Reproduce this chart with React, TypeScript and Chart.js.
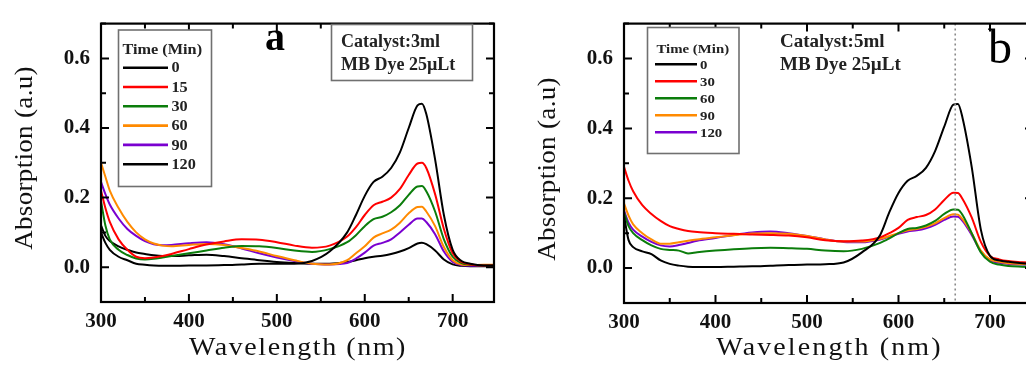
import React, { useEffect, useRef } from 'react';
import { Chart, registerables } from 'chart.js';

Chart.register(...registerables);

// ---------------- data ----------------
const WAVELENGTHS = [300, 305, 310, 320, 330, 340, 350, 360, 370, 380, 400, 420, 440, 460, 480, 500, 520, 540, 560, 580, 590, 600, 610, 620, 630, 640, 650, 660, 665, 670, 680, 690, 700, 710, 720, 735, 747];

const X_TICK_LABELS = ['300', '400', '500', '600', '700'];
const Y_TICK_LABELS = ['0.0', '0.2', '0.4', '0.6'];

// Panel a (Catalyst 3 ml)
const A_TIMES = ['0', '15', '30', '60', '90', '120'];
const A_COLORS = ['#000000', '#ff0000', '#0b7d0b', '#ff8a00', '#7a00d0', '#000000'];
const A_0 = [0.10, 0.07, 0.05, 0.03, 0.02, 0.01, 0.007, 0.005, 0.004, 0.004, 0.005, 0.005, 0.006, 0.008, 0.01, 0.01, 0.01, 0.018, 0.045, 0.10, 0.15, 0.205, 0.245, 0.26, 0.285, 0.33, 0.40, 0.465, 0.47, 0.44, 0.31, 0.15, 0.05, 0.018, 0.01, 0.005, 0.005];
const A_15 = [0.22, 0.17, 0.13, 0.08, 0.05, 0.03, 0.026, 0.028, 0.032, 0.038, 0.052, 0.065, 0.074, 0.08, 0.079, 0.072, 0.062, 0.056, 0.062, 0.088, 0.115, 0.15, 0.178, 0.188, 0.2, 0.225, 0.265, 0.298, 0.30, 0.285, 0.21, 0.11, 0.04, 0.015, 0.008, 0.005, 0.005];
const A_30 = [0.19, 0.12, 0.08, 0.05, 0.035, 0.025, 0.022, 0.024, 0.028, 0.032, 0.04, 0.048, 0.056, 0.061, 0.06, 0.055, 0.048, 0.044, 0.052, 0.072, 0.092, 0.118, 0.138, 0.145, 0.158, 0.178, 0.208, 0.232, 0.233, 0.218, 0.16, 0.08, 0.03, 0.012, 0.007, 0.005, 0.005];
const A_60 = [0.30, 0.26, 0.22, 0.17, 0.13, 0.10, 0.08, 0.068, 0.062, 0.06, 0.064, 0.067, 0.064, 0.055, 0.045, 0.032, 0.02, 0.01, 0.008, 0.02, 0.04, 0.06, 0.085, 0.097, 0.108, 0.128, 0.155, 0.173, 0.174, 0.16, 0.118, 0.058, 0.02, 0.008, 0.006, 0.007, 0.007];
const A_90 = [0.245, 0.21, 0.18, 0.14, 0.11, 0.09, 0.075, 0.066, 0.063, 0.064, 0.069, 0.072, 0.066, 0.054, 0.04, 0.028, 0.018, 0.01, 0.008, 0.012, 0.025, 0.042, 0.062, 0.07, 0.08, 0.10, 0.122, 0.14, 0.14, 0.13, 0.095, 0.045, 0.015, 0.006, 0.004, 0.004, 0.004];
const A_120 = [0.12, 0.09, 0.075, 0.06, 0.05, 0.042, 0.038, 0.034, 0.032, 0.032, 0.034, 0.036, 0.032, 0.026, 0.02, 0.015, 0.012, 0.01, 0.01, 0.015, 0.02, 0.026, 0.03, 0.033, 0.038, 0.045, 0.055, 0.068, 0.07, 0.066, 0.048, 0.022, 0.008, 0.004, 0.003, 0.003, 0.003];

// Panel b (Catalyst 5 ml)
const B_TIMES = ['0', '30', '60', '90', '120'];
const B_COLORS = ['#000000', '#ff0000', '#0b7d0b', '#ff8a00', '#7a00d0'];
const B_0 = [0.15, 0.08, 0.06, 0.048, 0.04, 0.022, 0.012, 0.007, 0.004, 0.003, 0.003, 0.004, 0.005, 0.007, 0.009, 0.01, 0.011, 0.016, 0.045, 0.095, 0.16, 0.215, 0.25, 0.264, 0.287, 0.335, 0.405, 0.468, 0.47, 0.43, 0.29, 0.11, 0.035, 0.022, 0.018, 0.014, 0.012];
const B_30 = [0.29, 0.25, 0.22, 0.18, 0.155, 0.135, 0.12, 0.112, 0.106, 0.103, 0.10, 0.098, 0.096, 0.095, 0.093, 0.088, 0.08, 0.077, 0.079, 0.088, 0.10, 0.115, 0.138, 0.146, 0.152, 0.168, 0.195, 0.216, 0.215, 0.198, 0.145, 0.075, 0.035, 0.025, 0.02, 0.017, 0.015];
const B_60 = [0.16, 0.12, 0.10, 0.08, 0.065, 0.055, 0.052, 0.05, 0.042, 0.045, 0.05, 0.054, 0.057, 0.058, 0.057, 0.055, 0.05, 0.048, 0.055, 0.072, 0.085, 0.10, 0.112, 0.115, 0.122, 0.135, 0.155, 0.168, 0.167, 0.152, 0.10, 0.045, 0.018, 0.01, 0.006, 0.004, 0.003];
const B_90 = [0.185, 0.15, 0.125, 0.10, 0.082, 0.07, 0.07, 0.074, 0.078, 0.082, 0.088, 0.094, 0.099, 0.10, 0.098, 0.092, 0.082, 0.076, 0.076, 0.084, 0.092, 0.10, 0.108, 0.112, 0.118, 0.128, 0.143, 0.154, 0.153, 0.14, 0.10, 0.05, 0.025, 0.018, 0.014, 0.012, 0.01];
const B_120 = [0.165, 0.13, 0.11, 0.09, 0.075, 0.065, 0.062, 0.066, 0.072, 0.078, 0.086, 0.095, 0.102, 0.105, 0.10, 0.092, 0.082, 0.075, 0.074, 0.082, 0.09, 0.098, 0.105, 0.108, 0.114, 0.124, 0.138, 0.148, 0.147, 0.135, 0.095, 0.048, 0.022, 0.015, 0.012, 0.01, 0.009];

const A_SERIES = [A_0, A_15, A_30, A_60, A_90, A_120];
const B_SERIES = [B_0, B_30, B_60, B_90, B_120];
const PEAK_LINE_NM = 662;

const SERIF = '"Liberation Serif", "Times New Roman", serif';

type TextOpts = { align?: CanvasTextAlign; baseline?: CanvasTextBaseline; sx?: number; spacing?: number; rotate?: number; color?: string };

function drawText(ctx: CanvasRenderingContext2D, text: string, x: number, y: number, font: string, o: TextOpts = {}) {
  ctx.save();
  ctx.translate(x, y);
  if (o.rotate) ctx.rotate(o.rotate);
  ctx.scale(o.sx ?? 1, 1);
  ctx.font = font;
  (ctx as any).letterSpacing = `${o.spacing ?? 0}px`;
  ctx.fillStyle = o.color ?? '#000';
  ctx.textBaseline = o.baseline ?? 'alphabetic';
  const w = ctx.measureText(text).width;
  let dx = 0;
  const align = o.align ?? 'left';
  if (align === 'center') dx = -w / 2;
  else if (align === 'right') dx = -w;
  ctx.textAlign = 'left';
  ctx.fillText(text, dx, 0);
  ctx.restore();
}

type PanelCfg = {
  width: number;
  height: number;
  areaLeft: number;
  areaRight: number;
  areaTop: number;
  areaBottom: number;
  times: string[];
  colors: string[];
  series: number[][];
  legend: { x: number; y: number; w: number; h: number; titleX: number; titleY: number; titleSize: number; lineX0: number; lineX1: number; textX: number; row0: number; rowGap: number; labelSize: number; sx: number };
  letter: { text: string; x: number; y: number; font: string };
  note: { lines: string[]; x: number; y0: number; gap: number; font: string; box?: { x: number; y: number; w: number; h: number } };
  yTitle: { x: number; y: number };
  xTitle: { x: number; y: number; spacing: number };
  peakLine?: number;
};

function makeChart(canvas: HTMLCanvasElement, cfg: PanelCfg) {
  const deco = {
    id: 'deco',
    afterDatasetsDraw(chart: any) {
      const ctx: CanvasRenderingContext2D = chart.ctx;
      const area = chart.chartArea;
      const xs = chart.scales.x;
      const ys = chart.scales.y;
      ctx.save();
      if (cfg.peakLine !== undefined) {
        const px = xs.getPixelForValue(cfg.peakLine);
        ctx.strokeStyle = '#8a8a8a';
        ctx.lineWidth = 1.6;
        ctx.setLineDash([2, 3]);
        ctx.beginPath();
        ctx.moveTo(px, area.top);
        ctx.lineTo(px, area.bottom);
        ctx.stroke();
        ctx.setLineDash([]);
      }
      // frame
      ctx.strokeStyle = '#000';
      ctx.lineWidth = 2.2;
      ctx.strokeRect(area.left, area.top, area.right - area.left, area.bottom - area.top);
      // ticks (inward on all sides)
      ctx.lineWidth = 2;
      ctx.beginPath();
      xs.ticks.forEach((t: any) => {
        const v = t.value;
        if (Math.abs(v % 50) > 1e-6) return;
        const len = v % 100 === 0 ? 8 : 5;
        const px = xs.getPixelForValue(v);
        ctx.moveTo(px, area.bottom);
        ctx.lineTo(px, area.bottom - len);
        ctx.moveTo(px, area.top);
        ctx.lineTo(px, area.top + len);
      });
      ys.ticks.forEach((t: any) => {
        const r = Math.round(t.value * 10);
        const len = r % 2 === 0 ? 8 : 5;
        const py = ys.getPixelForValue(t.value);
        ctx.moveTo(area.left, py);
        ctx.lineTo(area.left + len, py);
        ctx.moveTo(area.right, py);
        ctx.lineTo(area.right - len, py);
      });
      ctx.stroke();
      ctx.restore();

      // legend
      const lg = cfg.legend;
      ctx.save();
      ctx.fillStyle = '#fff';
      ctx.fillRect(lg.x, lg.y, lg.w, lg.h);
      ctx.strokeStyle = '#707070';
      ctx.lineWidth = 1.6;
      ctx.strokeRect(lg.x, lg.y, lg.w, lg.h);
      ctx.restore();
      drawText(ctx, 'Time (Min)', lg.titleX, lg.titleY, `bold ${lg.titleSize}px ${SERIF}`, { baseline: 'middle', sx: lg.sx, color: '#222' });
      chart.data.datasets.forEach((ds: any, i: number) => {
        const y = lg.row0 + i * lg.rowGap;
        ctx.save();
        ctx.strokeStyle = ds.borderColor;
        ctx.lineWidth = 2.6;
        ctx.beginPath();
        ctx.moveTo(lg.lineX0, y);
        ctx.lineTo(lg.lineX1, y);
        ctx.stroke();
        ctx.restore();
        drawText(ctx, ds.label, lg.textX, y + 1, `bold ${lg.labelSize}px ${SERIF}`, { baseline: 'middle', sx: lg.sx, color: '#222' });
      });

      // note (catalyst)
      const nt = cfg.note;
      if (nt.box) {
        ctx.save();
        ctx.fillStyle = '#fff';
        ctx.fillRect(nt.box.x, nt.box.y, nt.box.w, nt.box.h);
        ctx.strokeStyle = '#707070';
        ctx.lineWidth = 1.6;
        ctx.strokeRect(nt.box.x, nt.box.y, nt.box.w, nt.box.h);
        ctx.restore();
      }
      nt.lines.forEach((s, i) => drawText(ctx, s, nt.x, nt.y0 + i * nt.gap, nt.font, { color: '#222' }));

      // panel letter
      drawText(ctx, cfg.letter.text, cfg.letter.x, cfg.letter.y, cfg.letter.font, { align: 'center' });

      // axis titles
      drawText(ctx, 'Absorption (a.u)', cfg.yTitle.x, cfg.yTitle.y, `26px ${SERIF}`, { align: 'center', baseline: 'middle', rotate: -Math.PI / 2, sx: 1.04, spacing: 0.3, color: '#111' });
      drawText(ctx, 'Wavelength (nm)', cfg.xTitle.x, cfg.xTitle.y, `25px ${SERIF}`, { align: 'center', sx: 1.12, spacing: cfg.xTitle.spacing, color: '#111' });
    },
  };

  const tickFont = { family: SERIF, size: 21, weight: 'bold' as const };

  return new Chart(canvas, {
    type: 'line',
    data: {
      datasets: cfg.series.map((vals, i) => ({
        label: cfg.times[i],
        data: WAVELENGTHS.map((x, j) => ({ x, y: vals[j] })),
        borderColor: cfg.colors[i],
        backgroundColor: cfg.colors[i],
        borderWidth: 2,
        pointRadius: 0,
        cubicInterpolationMode: 'monotone' as const,
        fill: false,
      })),
    },
    options: {
      responsive: false,
      animation: false,
      events: [],
      layout: { padding: { left: 0, top: cfg.areaTop, right: cfg.width - cfg.areaRight, bottom: 0 } },
      plugins: { legend: { display: false }, tooltip: { enabled: false } },
      scales: {
        x: {
          type: 'linear',
          min: 300,
          max: 747,
          grid: { display: false, drawTicks: false },
          border: { display: false },
          ticks: {
            stepSize: 50,
            includeBounds: false,
            autoSkip: false,
            maxRotation: 0,
            padding: 7,
            color: '#111',
            font: tickFont,
            callback: (v: any) => {
              const s = String(Math.round(Number(v)));
              return X_TICK_LABELS.includes(s) && Math.abs(Number(v) - Math.round(Number(v))) < 1e-6 ? s : '';
            },
          },
          afterFit: (s: any) => {
            s.height = cfg.height - cfg.areaBottom;
          },
        },
        y: {
          type: 'linear',
          min: -0.1,
          max: 0.7,
          grid: { display: false, drawTicks: false },
          border: { display: false },
          ticks: {
            stepSize: 0.1,
            autoSkip: false,
            padding: 11,
            color: '#111',
            font: tickFont,
            callback: (v: any) => {
              const s = (Math.round(Number(v) * 10) / 10).toFixed(1);
              return Y_TICK_LABELS.includes(s) ? s : '';
            },
          },
          afterFit: (s: any) => {
            s.width = cfg.areaLeft;
          },
        },
      },
    },
    plugins: [deco],
  } as any);
}

const PANEL_A: PanelCfg = {
  width: 513,
  height: 365,
  areaLeft: 101,
  areaRight: 494,
  areaTop: 14,
  areaBottom: 302,
  times: A_TIMES,
  colors: A_COLORS,
  series: A_SERIES,
  legend: { x: 118.5, y: 30, w: 93, h: 156.5, titleX: 122.5, titleY: 50, titleSize: 14, lineX0: 123, lineX1: 168, textX: 171.5, row0: 67.7, rowGap: 19.3, labelSize: 14, sx: 1.16 },
  letter: { text: 'a', x: 275, y: 50, font: `bold 40px ${SERIF}` },
  note: { lines: ['Catalyst:3ml', 'MB Dye 25\u00b5Lt'], x: 341, y0: 47, gap: 23, font: `bold 18px ${SERIF}`, box: { x: 331.5, y: 24.5, w: 141, h: 56 } },
  yTitle: { x: 25, y: 158 },
  xTitle: { x: 298, y: 355, spacing: 1.4 },
};

const PANEL_B: PanelCfg = {
  width: 540,
  height: 365,
  areaLeft: 111,
  areaRight: 520,
  areaTop: 16,
  areaBottom: 303,
  times: B_TIMES,
  colors: B_COLORS,
  series: B_SERIES,
  legend: { x: 134.5, y: 27.5, w: 91.5, h: 126, titleX: 143.5, titleY: 49.5, titleSize: 13, lineX0: 142, lineX1: 184, textX: 187, row0: 64.3, rowGap: 17, labelSize: 13, sx: 1.14 },
  letter: { text: 'b', x: 487, y: 63, font: `48px ${SERIF}` },
  note: { lines: ['Catalyst:5ml', 'MB Dye 25\u00b5Lt'], x: 267, y0: 47, gap: 23, font: `bold 19px ${SERIF}` },
  yTitle: { x: 35, y: 169 },
  xTitle: { x: 316.5, y: 355, spacing: 1.9 },
  peakLine: PEAK_LINE_NM,
};

function Panel({ cfg, left }: { cfg: PanelCfg; left: number }) {
  const ref = useRef<HTMLCanvasElement | null>(null);
  useEffect(() => {
    if (!ref.current) return;
    const chart = makeChart(ref.current, cfg);
    return () => chart.destroy();
  }, [cfg]);
  return (
    <canvas
      ref={ref}
      width={cfg.width}
      height={cfg.height}
      style={{ position: 'absolute', left, top: 0, width: cfg.width, height: cfg.height }}
    />
  );
}

export default function App() {
  return (
    <div style={{ position: 'fixed', left: 0, top: 0, width: 1026, height: 365, overflow: 'hidden', background: '#fff' }}>
      <Panel cfg={PANEL_A} left={0} />
      <Panel cfg={PANEL_B} left={513} />
    </div>
  );
}
